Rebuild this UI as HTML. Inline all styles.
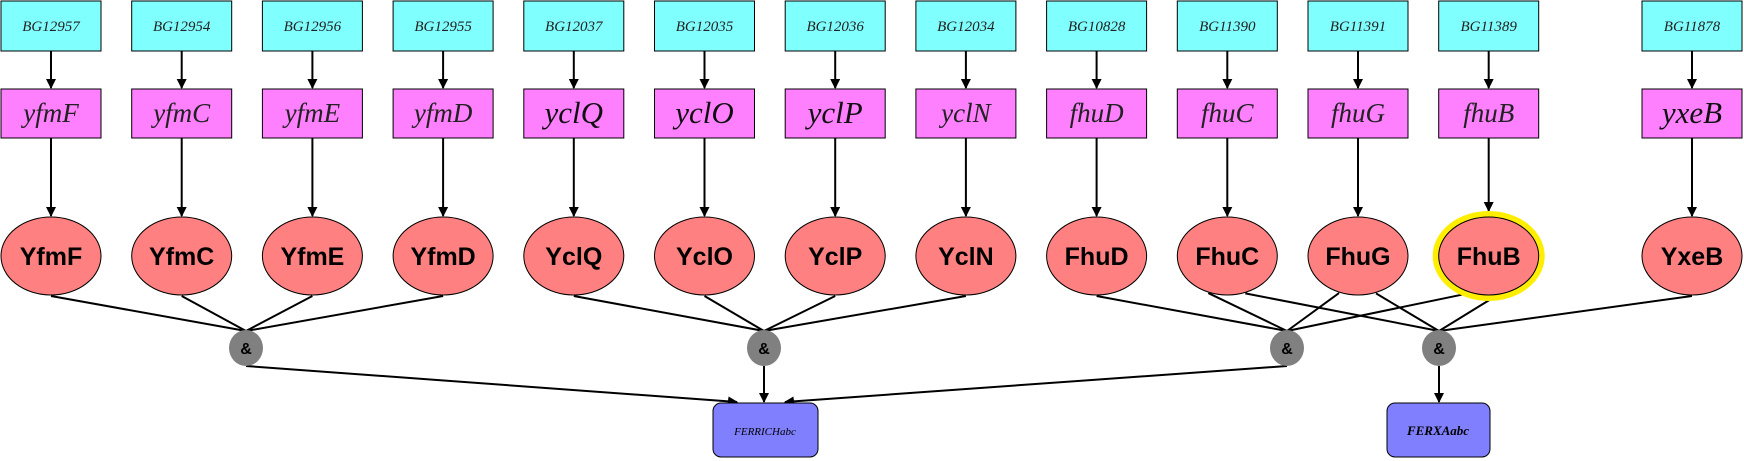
<!DOCTYPE html>
<html><head><meta charset="utf-8"><style>
body{margin:0;background:#fff}
svg{display:block}
.t{font-family:"Liberation Serif",serif;font-style:italic;font-size:15px;fill:#222}
.g{font-family:"Liberation Serif",serif;font-style:italic;font-size:27px;fill:#222}
.gl{font-family:"Liberation Serif",serif;font-style:italic;font-size:31px;fill:#111}
.p{font-family:"Liberation Sans",sans-serif;font-weight:bold;font-size:25px;fill:#000}
.a{font-family:"Liberation Sans",sans-serif;font-weight:bold;font-size:16px;fill:#000}
</style></head><body>
<svg id="s" width="1744" height="461" xmlns="http://www.w3.org/2000/svg">
<defs><marker id="m" markerWidth="10" markerHeight="10" refX="9" refY="5" orient="auto" markerUnits="userSpaceOnUse"><path d="M0,0 L10,5 L0,10 z" fill="#000"/></marker></defs>
<g id="lines" stroke="#000" stroke-width="2" fill="none"></g>
<g id="nodes"></g>
<rect x="713" y="403" width="105" height="54" rx="8" fill="#8080ff" stroke="#000"/>
<text x="765" y="435" text-anchor="middle" style="font-family:'Liberation Serif',serif;font-style:italic;font-size:11px">FERRICHabc</text>
<rect x="1387" y="403" width="103" height="54" rx="8" fill="#8080ff" stroke="#000"/>
<text x="1438" y="435" text-anchor="middle" style="font-family:'Liberation Serif',serif;font-style:italic;font-weight:bold;font-size:13px">FERXAabc</text>
</svg>
<script>
var bg=["BG12957","BG12954","BG12956","BG12955","BG12037","BG12035","BG12036","BG12034","BG10828","BG11390","BG11391","BG11389","BG11878"];
var gn=["yfmF","yfmC","yfmE","yfmD","yclQ","yclO","yclP","yclN","fhuD","fhuC","fhuG","fhuB","yxeB"];
var pr=["YfmF","YfmC","YfmE","YfmD","YclQ","YclO","YclP","YclN","FhuD","FhuC","FhuG","FhuB","YxeB"];
var big={yclQ:1,yclO:1,yclP:1,yxeB:1};
var xs=[];for(var i=0;i<12;i++)xs.push(51+130.7*i);xs.push(1692);
var NS="http://www.w3.org/2000/svg",L=document.getElementById("lines"),N=document.getElementById("nodes");
function el(p,t,a,txt){var e=document.createElementNS(NS,t);for(var k in a)e.setAttribute(k,a[k]);if(txt)e.textContent=txt;p.appendChild(e);return e;}
function line(x1,y1,x2,y2,arr,par){var e=el(par||L,"line",{x1:x1,y1:y1,x2:x2,y2:y2,stroke:"#000","stroke-width":2});if(arr)e.setAttribute("marker-end","url(#m)");}
var EY=256,RX=50,RY=39;
for(var i=0;i<13;i++){var x=xs[i];
el(N,"rect",{x:x-50,y:1,width:100,height:50,fill:"#80ffff",stroke:"#000"});
el(N,"text",{x:x,y:31,"text-anchor":"middle","class":"t"},bg[i]);
el(N,"rect",{x:x-50,y:89,width:100,height:49,fill:"#ff80ff",stroke:"#000"});
el(N,"text",{x:x,y:big[gn[i]]?123:122,"text-anchor":"middle","class":big[gn[i]]?"gl":"g"},gn[i]);
line(x,51,x,88,1);line(x,138,i==11?211:216,0);
if(i==11){line(x,138,x,211,1,L);el(N,"ellipse",{cx:x,cy:EY,rx:RX+3,ry:RY+3,fill:"none",stroke:"#ffee00","stroke-width":6});}
el(N,"ellipse",{cx:x,cy:EY,rx:RX,ry:RY,fill:"#ff8080",stroke:"#000"});
el(N,"text",{x:x,y:EY+9,"text-anchor":"middle","class":"p"},pr[i]);}
// remove stray lines created with wrong args
Array.prototype.slice.call(L.querySelectorAll("line")).forEach(function(l){if(l.getAttribute("y2")==="0"||l.getAttribute("x2")==="211"||l.getAttribute("x2")==="216")L.removeChild(l);});
for(var i=0;i<13;i++){if(i!=11)line(xs[i],138,xs[i],216,1);}
var AY=348;
var off={"2_9":-19,"3_9":18,"2_10":-19,"3_10":18,"2_11":-19,"3_11":8};
var amp=[[246,[0,1,2,3]],[764,[4,5,6,7]],[1287,[8,9,10,11]],[1439,[9,10,11,12]]];
amp.forEach(function(a,k){var ax=a[0];a[1].forEach(function(i){var o=off[k+"_"+i]||0;var x=xs[i]+o;
var yy=EY+RY*Math.sqrt(Math.max(0,1-o*o/(RX*RX)))+1;line(x,yy,ax,AY-17);});
el(N,"ellipse",{cx:ax,cy:AY,rx:17,ry:18,fill:"#808080"});
el(N,"text",{x:ax,y:AY+6,"text-anchor":"middle","class":"a"},"&");});
line(246,366,737,402,1);line(764,366,764,402,1);line(1287,366,785,402,1);line(1439,366,1439,402,1);
</script>
</body></html>
